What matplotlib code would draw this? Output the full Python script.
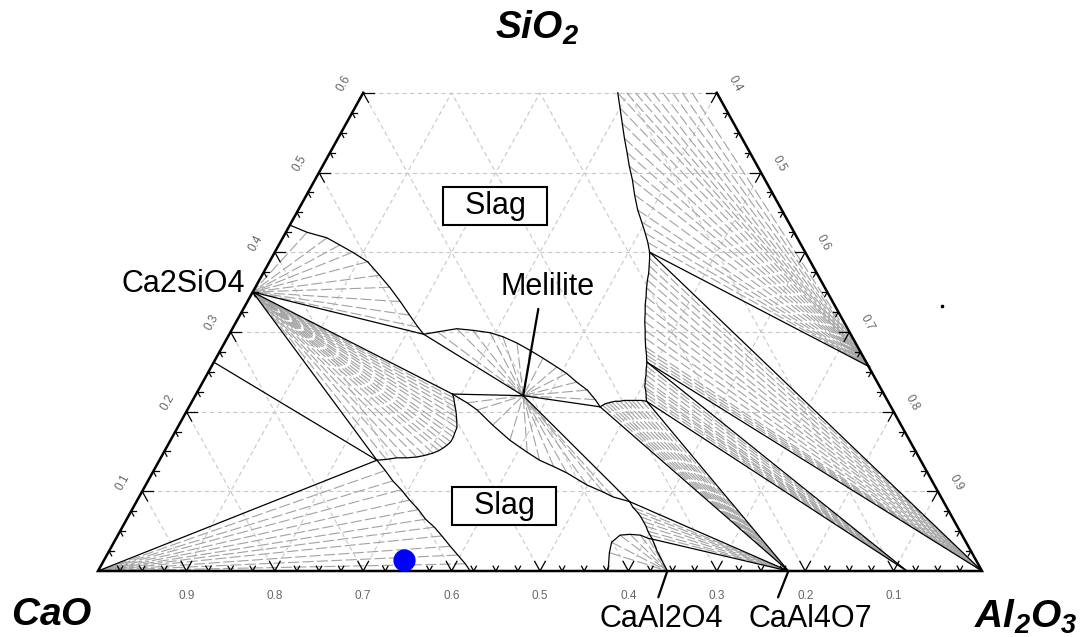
import numpy as np
import matplotlib.pyplot as plt

plt.rcParams['font.family'] = ['Liberation Sans', 'DejaVu Sans']
plt.rcParams['mathtext.fontset'] = 'custom'
plt.rcParams['mathtext.rm'] = 'Liberation Sans:bold:italic'
plt.rcParams['mathtext.it'] = 'Liberation Sans:bold:italic'

# compositions are (Al2O3, SiO2) mass fractions, CaO is the rest
CaO = (0.0, 0.0)
Al2O3 = (1.0, 0.0)
C3S = (0.0, 0.262)
C2S = (0.0, 0.350)
Melilite = (0.371, 0.220)
CA = (0.644, 0.0)
CA2 = (0.781, 0.0)
CA6 = (0.915, 0.0)
Mullite = (0.745, 0.256)

# invariant / corner points of the liquid
P1 = (0.246, 0.139)
P2 = (0.220, 0.297)
P3 = (0.465, 0.206)
P4 = (0.290, 0.222)
P5 = (0.558, 0.087)
V1 = (0.424, 0.400)
V2 = (0.490, 0.262)
V3 = (0.514, 0.213)
D1 = (0.607, 0.040)

# liquidus curves (Al2O3 list, SiO2 list)
liq_cao_al = [0.246, 0.262, 0.277, 0.292, 0.308, 0.324, 0.338, 0.353, 0.367, 0.383, 0.397, 0.411, 0.421]
liq_cao_si = [0.139, 0.126, 0.113, 0.102, 0.089, 0.077, 0.065, 0.055, 0.044, 0.031, 0.020, 0.009, 0.0]

liq_c2s_up_al = [0.0, 0.024, 0.050, 0.069, 0.088, 0.111, 0.133, 0.152, 0.173, 0.192, 0.209, 0.220]
liq_c2s_up_si = [0.434, 0.425, 0.418, 0.409, 0.400, 0.388, 0.371, 0.356, 0.338, 0.321, 0.306, 0.297]

dome_mel_al = [0.220, 0.234, 0.254, 0.273, 0.294, 0.311, 0.331, 0.350, 0.370, 0.391, 0.406, 0.423, 0.440, 0.455, 0.465]
dome_mel_si = [0.297, 0.300, 0.304, 0.302, 0.299, 0.294, 0.286, 0.277, 0.267, 0.256, 0.248, 0.237, 0.227, 0.215, 0.206]

liq_c2s_low_al = [0.290, 0.294, 0.297, 0.301, 0.305, 0.309, 0.313, 0.316, 0.317, 0.318, 0.318, 0.316, 0.313,
                  0.310, 0.305, 0.297, 0.289, 0.278, 0.267, 0.256, 0.246]
liq_c2s_low_si = [0.222, 0.217, 0.212, 0.206, 0.200, 0.193, 0.186, 0.180, 0.173, 0.168, 0.162, 0.158, 0.154,
                  0.151, 0.148, 0.145, 0.143, 0.142, 0.142, 0.140, 0.139]

liq_mel_low_al = [0.290, 0.312, 0.328, 0.355, 0.384, 0.411, 0.430, 0.450, 0.469, 0.499, 0.522, 0.536, 0.558]
liq_mel_low_si = [0.222, 0.211, 0.202, 0.183, 0.164, 0.149, 0.139, 0.131, 0.123, 0.108, 0.099, 0.093, 0.087]

# P5 -> CA, D1 is index 8
liq_ca_al = [0.558, 0.565, 0.573, 0.580, 0.586, 0.592, 0.597, 0.602, 0.607, 0.619, 0.632, 0.644]
liq_ca_si = [0.087, 0.080, 0.074, 0.068, 0.062, 0.056, 0.050, 0.045, 0.040, 0.026, 0.0125, 0.0]

dome_ca_al = [0.577, 0.567, 0.563, 0.568, 0.579, 0.591, 0.602, 0.607]
dome_ca_si = [0.0, 0.023, 0.036, 0.045, 0.046, 0.045, 0.041, 0.040]

liq_ca2_al = [0.465, 0.467, 0.469, 0.472, 0.475, 0.479, 0.484, 0.488, 0.493, 0.497, 0.502, 0.508, 0.514]
liq_ca2_si = [0.206, 0.208, 0.210, 0.211, 0.212, 0.213, 0.213, 0.214, 0.214, 0.214, 0.214, 0.214, 0.213]

# V1 -> V2 (index 16) -> V3
liq_v_al = [0.424, 0.428, 0.432, 0.436, 0.439, 0.443, 0.448, 0.452, 0.457, 0.462, 0.468, 0.473, 0.479,
            0.482, 0.485, 0.487, 0.490, 0.492, 0.494, 0.497, 0.499, 0.501, 0.503, 0.506, 0.509, 0.511, 0.514]
liq_v_si = [0.400, 0.392, 0.383, 0.374, 0.365, 0.355, 0.344, 0.334, 0.324, 0.313, 0.302, 0.292, 0.281,
            0.276, 0.271, 0.267, 0.262, 0.257, 0.252, 0.246, 0.240, 0.236, 0.231, 0.227, 0.222, 0.218, 0.213]

liq_mul_al = [0.288, 0.300, 0.312, 0.324, 0.336, 0.347, 0.359, 0.371, 0.384, 0.396, 0.407, 0.416, 0.424]
liq_mul_si = [0.600, 0.581, 0.562, 0.543, 0.525, 0.508, 0.491, 0.472, 0.453, 0.438, 0.424, 0.412, 0.400]

# mullite tie lines leaving through the top cut (SiO2 = 0.6)
top_mul_al = [0.298, 0.308, 0.318, 0.328, 0.339, 0.350, 0.361, 0.372, 0.384]

# measured sample and stray dot
sample = (0.339, 0.014)
stray = (0.788, 0.3325)

sio2_max = 0.6

tie_c = '#a2a2a2'
grid_c = '#c8c8c8'


def xy(al, si):
    al = np.asarray(al, float)
    si = np.asarray(si, float)
    return al + si / 2, si


fig = plt.figure(figsize=(10.83, 6.37), dpi=100)
ax = fig.add_axes([0, 0, 1, 1])
ax.set_xlim(-98 / 884, 985 / 884)
ax.set_ylim(-66 / 797, 571 / 797)
ax.axis('off')

# grid
for v in np.arange(0.1, 0.95, 0.1):
    lines = []
    if v <= sio2_max + 1e-6:
        lines.append(([0, 1 - v], [v, v]))
    smax = min(sio2_max, 1 - v)
    lines.append(([v, v], [0, smax]))
    lines.append(([1 - v, 1 - v - smax], [0, smax]))
    for a, s in lines:
        x, y = xy(a, s)
        ax.plot(x, y, color=grid_c, lw=0.8, dashes=(4, 3), zorder=1)


def line(p, q, **kw):
    x, y = xy([p[0], q[0]], [p[1], q[1]])
    ax.plot(x, y, color='black', lw=0.9, zorder=3, **kw)


def curve(al, si):
    x, y = xy(al, si)
    ax.plot(x, y, color='black', lw=0.9, zorder=3)


def fan(pt, al, si):
    # dashes start on the liquid side
    for a, s in zip(al[1:-1], si[1:-1]):
        x, y = xy([a, pt[0]], [s, pt[1]])
        ax.plot(x, y, color=tie_c, lw=0.8, dashes=(10, 3), zorder=2)


# tie lines
fan(CaO, liq_cao_al, liq_cao_si)
fan(C2S, liq_c2s_up_al, liq_c2s_up_si)
fan(Melilite, dome_mel_al, dome_mel_si)
fan(C2S, liq_c2s_low_al, liq_c2s_low_si)
fan(Melilite, liq_mel_low_al, liq_mel_low_si)
fan(CA2, liq_ca_al[:9], liq_ca_si[:9])
fan(CA, dome_ca_al + [D1[0]], dome_ca_si + [D1[1]])
fan(CA2, liq_ca2_al, liq_ca2_si)
fan(Al2O3, liq_v_al[:17], liq_v_si[:17])
fan(CA6, liq_v_al[16:], liq_v_si[16:])
fan(Mullite, top_mul_al[::-1] + liq_mul_al, [sio2_max] * len(top_mul_al) + liq_mul_si)

# phase boundaries
for p, q in [(CaO, P1), (C3S, P1), (C2S, P1), (C2S, P2), (C2S, P4), (P2, Melilite),
             (Melilite, P3), (P4, Melilite), (Melilite, P5), (P3, CA2), (P5, CA2),
             (D1, CA2), (V3, CA2), (V3, CA6), (V2, CA6), (V2, Al2O3), (V1, Al2O3),
             (V1, Mullite)]:
    line(p, q)
for al, si in [(liq_cao_al, liq_cao_si), (liq_c2s_up_al, liq_c2s_up_si),
               (dome_mel_al, dome_mel_si), (liq_c2s_low_al, liq_c2s_low_si),
               (liq_mel_low_al, liq_mel_low_si), (liq_ca_al, liq_ca_si),
               (dome_ca_al, dome_ca_si), (liq_ca2_al, liq_ca2_si),
               (liq_v_al, liq_v_si), (liq_mul_al, liq_mul_si)]:
    curve(al, si)

# frame
x, y = xy([1 - sio2_max, 1, 0, 0], [sio2_max, 0, 0, sio2_max])
ax.plot(x, y, color='black', lw=1.8, zorder=4, solid_joinstyle='miter')

# ticks
for i in range(1, 40):
    v = i * 0.025
    t = 0.012 if i % 4 == 0 else 0.006
    segs = [((v, v), (0, t)), ((v, v - t), (0, t))]
    if v <= sio2_max + 1e-6:
        segs += [((0, t), (v, v)), ((0, t), (v, v - t))]
    if v >= 1 - sio2_max - 1e-6:
        segs += [((v, v - t), (1 - v, 1 - v)), ((v, v), (1 - v, 1 - v - t))]
    for a, s in segs:
        x, y = xy(a, s)
        ax.plot(x, y, color='black', lw=0.9, zorder=4)

lab_kw = dict(textcoords='offset points', ha='center', va='center', color='#666666', fontsize=8.5)
for i in range(1, 10):
    v = i / 10
    x, y = xy(1 - v, 0)
    ax.annotate(f'{v:.1f}', (x, y), xytext=(0, -18), **lab_kw)
    if v <= sio2_max + 1e-6:
        x, y = xy(0, v)
        ax.annotate(f'{v:.1f}', (x, y), xytext=(-13.7, 6.5), rotation=61, **lab_kw)
    if v >= 1 - sio2_max - 1e-6:
        x, y = xy(v, 1 - v)
        ax.annotate(f'{v:.1f}', (x, y), xytext=(13, 6.5), rotation=-61, **lab_kw)


def fpx(px, py):
    return px / 1083, 1 - py / 637


# corner labels
fig.text(*fpx(537, 28), r'$\mathrm{SiO_2}$', fontsize=28, ha='center', va='center')
fig.text(*fpx(52, 615), r'$\mathrm{CaO}$', fontsize=28, ha='center', va='center')
fig.text(*fpx(1026, 617), r'$\mathrm{Al_2O_3}$', fontsize=28, ha='center', va='center')

# region and compound labels
box = dict(boxstyle='square,pad=0.14', fc='white', ec='black', lw=1.5)
fig.text(*fpx(495, 206), '  Slag  ', fontsize=22, ha='center', va='center', bbox=box, zorder=6)
fig.text(*fpx(504, 506), '  Slag  ', fontsize=22, ha='center', va='center', bbox=box, zorder=6)
fig.text(*fpx(183, 284), 'Ca2SiO4', fontsize=22, ha='center', va='center')

arr = dict(arrowstyle='-', color='black', lw=1.6, shrinkA=3, shrinkB=0)
ax.annotate('Melilite', xy(*Melilite), xytext=(548, 637 - 287), textcoords='figure pixels',
            fontsize=22, ha='center', va='center', arrowprops=dict(arr, relpos=(0.41, 0.0)))
ax.annotate('CaAl2O4', xy(*CA), xytext=(661, 637 - 619), textcoords='figure pixels',
            fontsize=22, ha='center', va='center', arrowprops=dict(arr, relpos=(0.46, 1.0)))
ax.annotate('CaAl4O7', xy(*CA2), xytext=(810, 637 - 619), textcoords='figure pixels',
            fontsize=22, ha='center', va='center', arrowprops=dict(arr, relpos=(0.22, 1.0)))

# points
x, y = xy(*sample)
ax.plot(x, y, 'o', color='#0000ff', ms=15, zorder=7)
x, y = xy(*stray)
ax.plot(x, y, 's', color='black', ms=1.5, zorder=7)

fig.savefig('out.png', dpi=100)
